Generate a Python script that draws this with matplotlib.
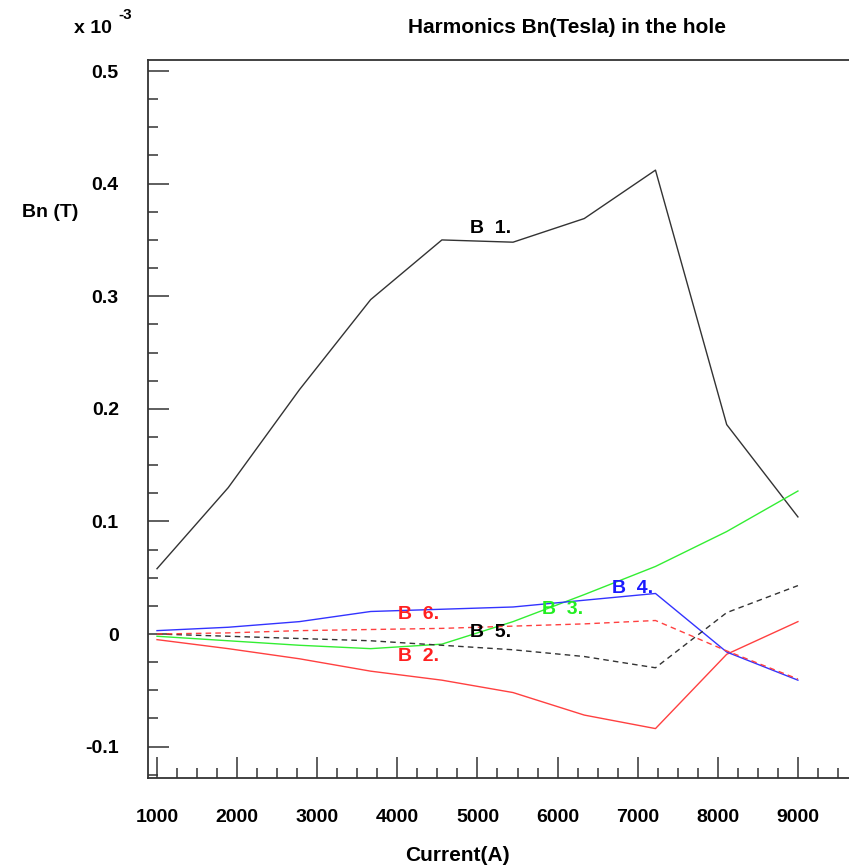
import matplotlib
matplotlib.use('Agg')
import matplotlib.pyplot as plt
from matplotlib.ticker import MultipleLocator

# Current (A) and harmonics in units of 1e-3 T
current = [1000, 1889, 2778, 3667, 4556, 5444, 6333, 7222, 8111, 9000]
b1 = [0.058, 0.130, 0.217, 0.297, 0.350, 0.348, 0.369, 0.412, 0.186, 0.104]
b2 = [-0.005, -0.013, -0.022, -0.033, -0.041, -0.052, -0.072, -0.084, -0.018, 0.011]
b3 = [-0.002, -0.006, -0.010, -0.013, -0.009, 0.011, 0.035, 0.060, 0.091, 0.127]
b4 = [0.003, 0.006, 0.011, 0.020, 0.022, 0.024, 0.030, 0.036, -0.016, -0.041]
b5 = [0.000, -0.002, -0.004, -0.006, -0.010, -0.014, -0.020, -0.030, 0.019, 0.043]
b6 = [0.000, 0.001, 0.003, 0.004, 0.005, 0.007, 0.009, 0.012, -0.015, -0.040]

plt.rcParams['font.family'] = ['Liberation Sans', 'DejaVu Sans']
plt.rcParams['font.weight'] = 'bold'

fig = plt.figure(figsize=(8.49, 8.66), dpi=100)
ax = fig.add_axes([0.1743, 0.1016, 0.8257, 0.8291])

ax.plot(current, b1, color='#333333', lw=1)
ax.plot(current, b2, color='#ff4040', lw=1)
ax.plot(current, b3, color='#33ee33', lw=1)
ax.plot(current, b4, color='#3333ff', lw=1)
ax.plot(current, b5, color='#333333', lw=1, ls=(0, (4, 3)))
ax.plot(current, b6, color='#ff4040', lw=1, ls=(0, (4, 3)))

fs = 14
ax.text(5162, 0.3606, 'B  1.', color='black', fontsize=fs, ha='center', va='center')
ax.text(4262, -0.020, 'B  2.', color='#ff2020', fontsize=fs, ha='center', va='center')
ax.text(6062, 0.022, 'B  3.', color='#22ee22', fontsize=fs, ha='center', va='center')
ax.text(6937, 0.040, 'B  4.', color='#1a1aff', fontsize=fs, ha='center', va='center')
ax.text(5162, 0.001, 'B  5.', color='black', fontsize=fs, ha='center', va='center')
ax.text(4262, 0.017, 'B  6.', color='#ff2020', fontsize=fs, ha='center', va='center')

ax.set_xlim(887.5, 9637.5)
ax.set_ylim(-0.1279, 0.5098)
ax.xaxis.set_major_locator(MultipleLocator(1000))
ax.xaxis.set_minor_locator(MultipleLocator(250))
ax.yaxis.set_major_locator(MultipleLocator(0.1))
ax.yaxis.set_minor_locator(MultipleLocator(0.025))
ax.yaxis.set_major_formatter(plt.FuncFormatter(lambda v, p: '0' if abs(v) < 1e-9 else '%g' % round(v, 3)))

ax.spines['right'].set_visible(False)
for s in ['left', 'bottom', 'top']:
    ax.spines[s].set_linewidth(1.3)
    ax.spines[s].set_color('#333333')

ax.tick_params(which='major', direction='in', length=15, width=1.1, color='#333333',
               labelsize=fs, pad=21)
ax.tick_params(which='minor', direction='in', length=7.5, width=1.1, color='#333333')
ax.tick_params(axis='x', pad=22)
ax.tick_params(top=False, right=False, which='both')

fig.text(0.668, 0.968, 'Harmonics Bn(Tesla) in the hole', fontsize=15, ha='center', va='center')
fig.text(0.059, 0.755, 'Bn (T)', fontsize=fs, ha='center', va='center')
fig.text(0.539, 0.012, 'Current(A)', fontsize=15, ha='center', va='center')
fig.text(0.087, 0.967, 'x 10', fontsize=fs, ha='left', va='center')
fig.text(0.148, 0.983, '-3', fontsize=fs - 3, ha='center', va='center')

fig.savefig('out.png', dpi=100)
plt.close(fig)
